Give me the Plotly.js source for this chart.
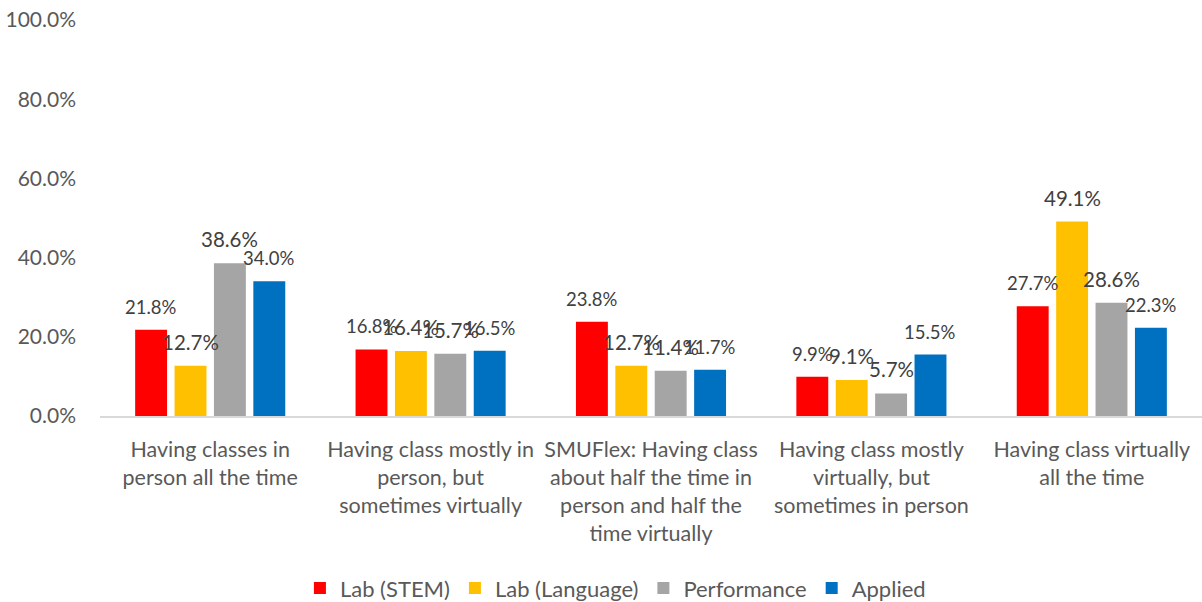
<!DOCTYPE html>
<html>
<head>
<meta charset="utf-8">
<script src="https://cdn.plot.ly/plotly-3.0.1.min.js"></script>
<style>html,body{margin:0;padding:0;background:#fff}#chart{width:1202px;height:602px}</style>
</head>
<body>
<div id="chart"></div>
<script>
const categories = [
  "Having classes in<br>person all the time",
  "Having class mostly in<br>person, but<br>sometimes virtually",
  "SMUFlex: Having class<br>about half the time in<br>person and half the<br>time virtually",
  "Having class mostly<br>virtually, but<br>sometimes in person",
  "Having class virtually<br>all the time"
];
const seriesNames = ["Lab (STEM)", "Lab (Language)", "Performance", "Applied"];
const labStem = [0.218, 0.168, 0.238, 0.099, 0.277];
const labLanguage = [0.127, 0.164, 0.127, 0.091, 0.491];
const performance = [0.386, 0.157, 0.114, 0.057, 0.286];
const applied = [0.340, 0.165, 0.117, 0.155, 0.223];
const seriesValues = [labStem, labLanguage, performance, applied];
const seriesColors = ["#FF0000", "#FFC000", "#A5A5A5", "#0070C0"];
const labelSizes = [18.5, 20.5, 20.5, 18.5];
const yTickVals = [0, 0.2, 0.4, 0.6, 0.8, 1.0];

const FONT = "Lato, 'Open Sans', sans-serif";
const bargap = 0.285;

const traces = seriesValues.map((vals, i) => ({
  type: 'bar',
  name: seriesNames[i],
  x: categories,
  y: vals,
  marker: {color: seriesColors[i]},
  hoverinfo: 'none'
}));

const annotations = [];
seriesValues.forEach((vals, s) => {
  const slot = (1 - bargap) / seriesValues.length;
  vals.forEach((v, c) => {
    annotations.push({
      xref: 'x', yref: 'y',
      x: c + (s - (seriesValues.length - 1) / 2) * slot,
      y: v,
      text: (v * 100).toFixed(1) + '%',
      showarrow: false,
      yanchor: 'bottom',
      xanchor: 'center',
      yshift: 10,
      font: {family: FONT, size: labelSizes[s], color: '#404040'}
    });
  });
});

const layout = {
  width: 1202, height: 602,
  paper_bgcolor: '#fff', plot_bgcolor: '#fff',
  margin: {l: 100, r: 0, t: 20, b: 186},
  barmode: 'group',
  bargap: bargap,
  bargroupgap: 0.19,
  font: {family: FONT, color: '#595959'},
  xaxis: {
    type: 'category',
    showgrid: false,
    showline: true,
    linecolor: '#D9D9D9',
    linewidth: 2,
    ticks: '',
    tickangle: 0,
    ticklabelstandoff: 13,
    tickfont: {family: FONT, size: 21.5, color: '#595959'},
    fixedrange: true
  },
  yaxis: {
    range: [0, 1.0],
    tickvals: yTickVals,
    tickformat: '.1%',
    showgrid: false,
    zeroline: false,
    showline: false,
    ticks: '',
    ticklabelstandoff: 23,
    tickfont: {family: FONT, size: 21, color: '#595959'},
    fixedrange: true
  },
  showlegend: true,
  legend: {
    orientation: 'h',
    xref: 'container', yref: 'container',
    x: 0.512, xanchor: 'center',
    y: 0.023, yanchor: 'middle',
    font: {family: FONT, size: 22, color: '#595959'},
    itemclick: false, itemdoubleclick: false
  },
  annotations: annotations
};

Plotly.newPlot('chart', traces, layout, {displayModeBar: false, staticPlot: true});
</script>
</body>
</html>
